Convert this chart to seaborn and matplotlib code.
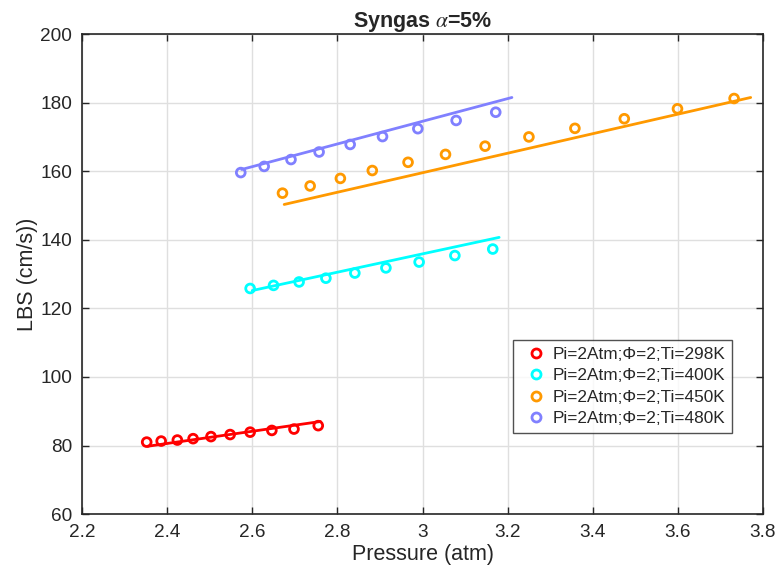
import numpy as np
import pandas as pd
import matplotlib
matplotlib.use("Agg")
import matplotlib.pyplot as plt
from matplotlib.lines import Line2D
import seaborn as sns

# measured points (pressure in atm, LBS in cm/s)
p_298 = [2.352, 2.386, 2.424, 2.461, 2.503, 2.548, 2.595, 2.646, 2.698, 2.755]
s_298 = [81.0, 81.3, 81.6, 82.0, 82.6, 83.2, 83.9, 84.4, 84.8, 85.8]
p_400 = [2.595, 2.650, 2.710, 2.773, 2.841, 2.914, 2.992, 3.076, 3.165]
s_400 = [125.8, 126.7, 127.7, 128.8, 130.3, 131.8, 133.5, 135.4, 137.3]
p_450 = [2.671, 2.736, 2.807, 2.882, 2.966, 3.054, 3.147, 3.250, 3.358, 3.474, 3.599, 3.732]
s_450 = [153.6, 155.7, 157.9, 160.2, 162.6, 164.9, 167.3, 170.0, 172.5, 175.3, 178.2, 181.2]
p_480 = [2.573, 2.628, 2.691, 2.757, 2.830, 2.906, 2.989, 3.079, 3.172]
s_480 = [159.6, 161.4, 163.4, 165.6, 167.8, 170.1, 172.4, 174.8, 177.2]

# fitted lines (end points)
fit_p_298 = [2.355, 2.760]
fit_s_298 = [79.8, 87.0]
fit_p_400 = [2.600, 3.180]
fit_s_400 = [125.2, 140.7]
fit_p_450 = [2.675, 3.771]
fit_s_450 = [150.3, 181.5]
fit_p_480 = [2.575, 3.210]
fit_s_480 = [160.5, 181.5]

labels = ["Pi=2Atm;\u03a6=2;Ti=298K", "Pi=2Atm;\u03a6=2;Ti=400K",
          "Pi=2Atm;\u03a6=2;Ti=450K", "Pi=2Atm;\u03a6=2;Ti=480K"]
colors = ["#ff0000", "#00ffff", "#ff9900", "#8080ff"]

pts = pd.concat([
    pd.DataFrame({"p": p, "s": s, "case": lab})
    for p, s, lab in zip([p_298, p_400, p_450, p_480],
                         [s_298, s_400, s_450, s_480], labels)
])
fits = pd.concat([
    pd.DataFrame({"p": p, "s": s, "case": lab})
    for p, s, lab in zip([fit_p_298, fit_p_400, fit_p_450, fit_p_480],
                         [fit_s_298, fit_s_400, fit_s_450, fit_s_480], labels)
])
pal = dict(zip(labels, colors))

sns.set_theme(style="whitegrid")
plt.rcParams["font.family"] = ["Liberation Sans", "DejaVu Sans"]
plt.rcParams["mathtext.fontset"] = "stix"

fig = plt.figure(figsize=(7.81, 5.77), dpi=100)
ax = fig.add_axes([0.105, 0.109, 0.872, 0.832])

sns.lineplot(data=fits, x="p", y="s", hue="case", palette=pal,
             linewidth=2, legend=False, ax=ax, estimator=None, sort=False)
sns.scatterplot(data=pts, x="p", y="s", hue="case", palette=pal,
                marker="o", s=40, linewidth=2, ax=ax, legend=False)
# open circles: edge colour from hue
for coll in ax.collections:
    fc = coll.get_facecolors()
    coll.set_edgecolors(fc)
    coll.set_facecolors("none")

ax.set_xlim(2.2, 3.8)
ax.set_ylim(60, 200)
ax.set_xticks(np.arange(2.2, 3.81, 0.2))
ax.set_xticklabels(["2.2", "2.4", "2.6", "2.8", "3", "3.2", "3.4", "3.6", "3.8"])
ax.set_yticks(np.arange(60, 201, 20))
ax.tick_params(direction="in", length=5, width=1, labelsize=13.7,
               colors="#262626", top=True, right=True, left=True, bottom=True)
ax.tick_params(axis="y", pad=7)
ax.tick_params(axis="x", pad=7)
ax.grid(True, color="#dfdfdf", linewidth=1)
for sp in ax.spines.values():
    sp.set_color("#262626")
    sp.set_linewidth(1.2)
ax.set_facecolor("white")

ax.set_xlabel("Pressure (atm)", fontsize=15.5, color="#262626", labelpad=2)
ax.set_ylabel("LBS (cm/s))", fontsize=15.5, color="#262626", labelpad=1.5)
ax.set_title(r"Syngas $\alpha$=5%", fontsize=15.5, fontweight="bold", pad=5)

handles = [Line2D([], [], linestyle="none", marker="o", markersize=6.5,
                  markerfacecolor="none", markeredgecolor=c, markeredgewidth=2)
           for c in colors]
leg = ax.legend(handles, labels, loc="upper left",
                bbox_to_anchor=(0.633, 0.3625), borderaxespad=0,
                fontsize=12.4, frameon=True, fancybox=False,
                edgecolor="#262626", handletextpad=0.0, borderpad=0.4,
                handlelength=1.9, labelspacing=0.36)
leg.get_frame().set_linewidth(1)

fig.savefig("out.png", dpi=100)
